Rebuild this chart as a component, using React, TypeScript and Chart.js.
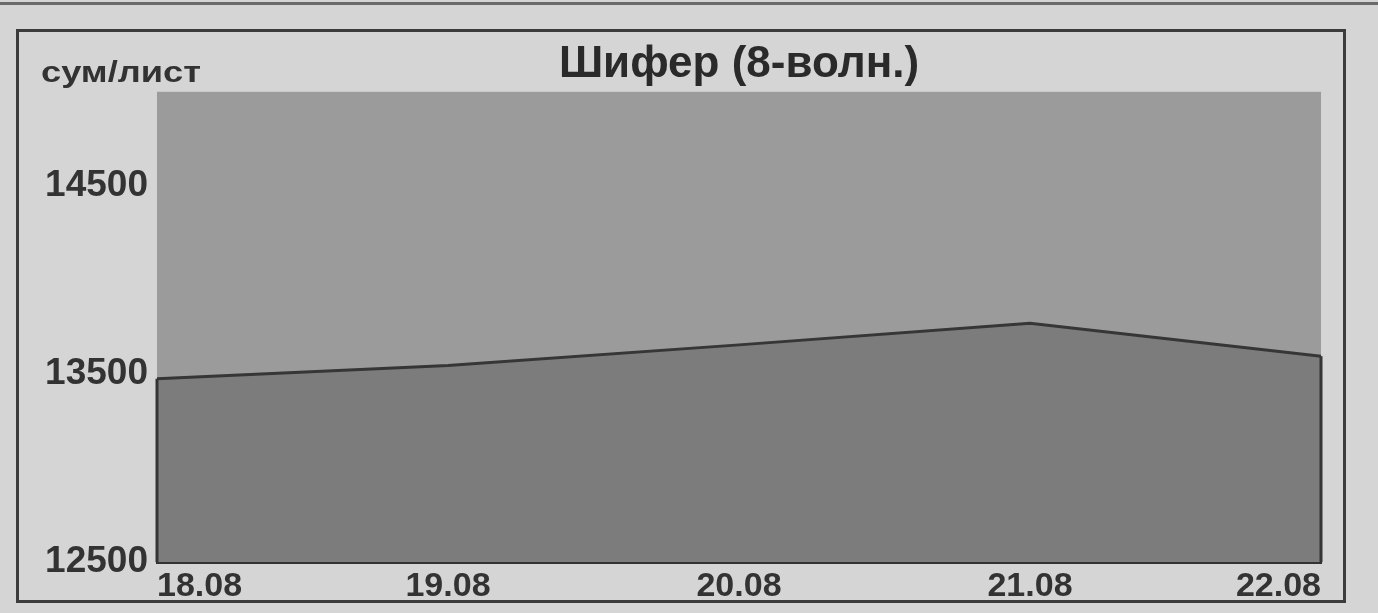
import React, { useEffect, useRef } from "react";
import { Chart, registerables } from "chart.js";

Chart.register(...registerables);

const categories = ["18.08", "19.08", "20.08", "21.08", "22.08"];
const prices = [13475, 13545, 13655, 13770, 13595];
const yTicks = [12500, 13500, 14500];
const yMin = 12500;
const yMax = 15000;
const titleText = "Шифер (8-волн.)";
const unitText = "сум/лист";

const FONT = "'Liberation Sans', Arial, sans-serif";

export default function App() {
  const ref = useRef<HTMLCanvasElement | null>(null);

  useEffect(() => {
    if (!ref.current) return;
    const bgPlugin = {
      id: "plotBg",
      beforeDraw(chart: any) {
        const { ctx, chartArea } = chart;
        ctx.save();
        ctx.fillStyle = "#9b9b9b";
        ctx.fillRect(chartArea.left, chartArea.top, chartArea.right - chartArea.left, chartArea.bottom - chartArea.top);
        ctx.restore();
      },
    };
    const edgePlugin = {
      id: "areaEdges",
      afterDatasetsDraw(chart: any) {
        const meta = chart.getDatasetMeta(0);
        const pts = meta.data;
        if (!pts.length) return;
        const { ctx, chartArea } = chart;
        ctx.save();
        ctx.strokeStyle = "#353535";
        ctx.lineWidth = 3;
        [pts[0], pts[pts.length - 1]].forEach((p: any) => {
          ctx.beginPath();
          ctx.moveTo(p.x, p.y);
          ctx.lineTo(p.x, chartArea.bottom);
          ctx.stroke();
        });
        ctx.restore();
      },
    };
    const chart = new Chart(ref.current, {
      type: "line",
      data: {
        labels: categories,
        datasets: [
          {
            data: prices,
            borderColor: "#363636",
            borderWidth: 3,
            backgroundColor: "#7c7c7c",
            fill: "start",
            pointRadius: 0,
            tension: 0,
          },
        ],
      },
      options: {
        animation: false,
        responsive: false,
        maintainAspectRatio: false,
        layout: { padding: { left: 20, right: 57, top: 0, bottom: 2 } },
        plugins: {
          legend: { display: false },
          tooltip: { enabled: false },
          title: {
            display: true,
            text: titleText,
            fullSize: false,
            color: "#2a2a2a",
            font: { family: FONT, size: 44, weight: "bold" },
            padding: { top: 38, bottom: 1 },
          },
        },
        scales: {
          x: {
            grid: { display: false, drawTicks: false },
            border: { display: true, color: "#333", width: 3 },
            ticks: {
              align: "inner",
              color: "#333",
              padding: 4,
              maxRotation: 0,
              autoSkip: false,
              font: { family: FONT, size: 34, weight: "bold" },
            },
          },
          y: {
            min: yMin,
            max: yMax,
            afterBuildTicks(scale: any) {
              scale.ticks = yTicks.map((v) => ({ value: v }));
            },
            afterFit(scale: any) {
              scale.width = 137;
            },
            grid: { display: false, drawTicks: false },
            border: { display: false },
            ticks: {
              color: "#333",
              padding: 9,
              callback: (v: any) => String(v),
              font: { family: FONT, size: 37, weight: "bold" },
            },
          },
        },
      },
      plugins: [bgPlugin, edgePlugin],
    });
    return () => chart.destroy();
  }, []);

  return (
    <div style={{ position: "fixed", left: 0, top: 0, width: 1378, height: 613, background: "#d5d5d5", overflow: "hidden" }}>
      <div style={{ position: "absolute", left: 0, top: 2, width: 1378, height: 3, background: "#6a6a6a" }} />
      <div
        style={{
          position: "absolute",
          left: 16,
          top: 29,
          width: 1324,
          height: 568,
          border: "3px solid #3c3c3c",
        }}
      />
      <canvas ref={ref} width={1378} height={613} style={{ position: "absolute", left: 0, top: 0, width: 1378, height: 613 }} />
      <div
        style={{
          position: "absolute",
          left: 41,
          top: 56,
          fontFamily: FONT,
          fontWeight: "bold",
          fontSize: 29,
          color: "#333",
          whiteSpace: "nowrap",
          transform: "scaleX(1.25)",
          transformOrigin: "left top",
        }}
      >
        {unitText}
      </div>
    </div>
  );
}
